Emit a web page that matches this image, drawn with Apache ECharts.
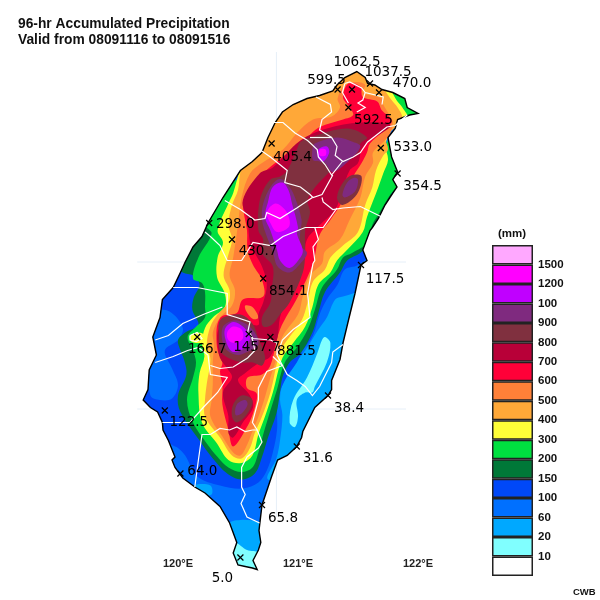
<!DOCTYPE html>
<html>
<head>
<meta charset="utf-8">
<title>96-hr Accumulated Precipitation</title>
<style>html,body{margin:0;background:#fff}#chart{width:600px;height:600px}</style>
<script src="https://cdn.jsdelivr.net/npm/echarts@6/dist/echarts.min.js"></script>
</head>
<body>
<div id="chart"></div>
<script>
// legend, bottom to top
var legendColors = ['#ffffff','#80ffff','#00a8ff','#0070ff','#0048f8','#007838','#00e040','#ffff38','#ffa838','#ff8038','#ff0038','#b80038','#80303f','#7f2a7f','#c000ff','#ff00ff','#ffa8ff'];
var legendLabels = ['','10','20','60','100','150','200','300','400','500','600','700','800','900','100','1200','1500',''];
var lonTicks = [120, 121, 122];

// coastline, lon/lat
var coast = [[121.49,25.27],[121.56,25.23],[121.58,25.19],[121.64,25.18],[121.70,25.15],[121.79,25.13],[121.89,25.09],[121.91,25.03],[122.00,24.99],[121.93,24.98],[121.83,24.95],[121.81,24.89],[121.75,24.83],[121.78,24.70],[121.83,24.60],[121.79,24.55],[121.825,24.50],[121.79,24.46],[121.725,24.38],[121.67,24.29],[121.62,24.23],[121.60,24.21],[121.54,24.08],[121.575,24.01],[121.525,23.98],[121.475,23.79],[121.42,23.61],[121.375,23.46],[121.35,23.35],[121.28,23.21],[121.28,23.15],[121.25,23.11],[121.14,23.03],[121.04,22.87],[121.03,22.83],[120.99,22.77],[120.91,22.71],[120.83,22.68],[120.78,22.57],[120.70,22.38],[120.675,22.21],[120.69,22.13],[120.67,22.08],[120.625,22.01],[120.66,21.95],[120.62,21.96],[120.56,21.97],[120.50,21.98],[120.46,22.06],[120.49,22.13],[120.43,22.26],[120.35,22.37],[120.225,22.46],[120.14,22.50],[120.04,22.56],[119.975,22.63],[119.95,22.68],[119.975,22.70],[119.92,22.81],[119.875,22.88],[119.87,22.93],[119.83,23.00],[119.77,23.03],[119.71,23.08],[119.75,23.15],[119.76,23.28],[119.82,23.38],[119.79,23.50],[119.85,23.63],[119.87,23.75],[119.96,23.83],[120.02,23.93],[120.06,24.00],[120.125,24.10],[120.20,24.17],[120.25,24.26],[120.375,24.43],[120.52,24.61],[120.62,24.67],[120.70,24.73],[120.75,24.83],[120.81,24.93],[120.87,25.00],[120.96,25.05],[121.075,25.09],[121.18,25.11],[121.29,25.14],[121.325,25.18],[121.39,25.23]];

// filled contours, painted low to high and clipped to the coast
var below60 = [
  [[121.375,23.77],[121.31,23.75],[121.24,23.63],[121.17,23.55],[121.06,23.41],[120.95,23.30],[120.87,23.18],[120.85,23.08],[120.87,22.98],[120.85,22.81],[120.82,22.69],[120.75,22.55],[121.02,22.55],[121.60,23.08],[121.68,23.81]],
  [[120.42,22.25],[120.52,22.28],[120.67,22.27],[120.725,22.25],[120.77,21.88],[120.39,21.88]],
  [[119.68,23.16],[119.77,23.16],[119.78,23.07],[119.71,23.06]],
  [[120.14,22.51],[120.27,22.51],[120.28,22.45],[120.18,22.45]]
];
var below20 = [
  [[121.225,23.50],[121.27,23.46],[121.24,23.33],[121.14,23.17],[121.12,23.13],[121.06,23.13],[120.99,23.08],[121.00,22.97],[120.975,22.90],[120.93,22.93],[120.96,23.08],[121.075,23.23],[121.16,23.39],[121.20,23.48]],
  [[120.475,22.13],[120.575,22.08],[120.67,22.06],[120.70,21.91],[120.39,21.91],[120.42,22.11]]
];
var contour100 = [
  [[119.975,23.95],[119.77,23.75],[119.64,23.41],[119.64,23.05],[119.85,22.85],[119.95,22.78],[120.00,22.76],[120.06,22.71],[120.16,22.57],[120.35,22.51],[120.54,22.49],[120.67,22.53],[120.74,22.61],[120.79,22.73],[120.825,22.88],[120.83,23.08],[120.89,23.21],[120.99,23.33],[121.04,23.41],[121.125,23.51],[121.18,23.65],[121.24,23.75],[121.33,23.85],[121.39,23.95],[121.50,23.98],[121.62,24.08],[121.43,24.21],[120.43,24.08]]
];
var holes60 = [
  [[119.81,23.67],[119.93,23.67],[120.04,23.56],[120.00,23.48],[119.89,23.41],[119.95,23.29],[120.00,23.18],[119.95,23.09],[119.85,23.08],[119.77,23.11],[119.75,23.35],[119.77,23.51]]
];
var contour150 = [
  [[120.39,24.45],[120.18,24.25],[119.975,23.98],[120.04,23.93],[120.125,23.91],[120.18,23.85],[120.13,23.76],[120.12,23.68],[120.17,23.58],[120.06,23.53],[120.00,23.48],[120.02,23.41],[120.05,23.35],[120.07,23.25],[120.00,23.11],[120.02,23.00],[120.18,22.81],[120.29,22.69],[120.41,22.59],[120.53,22.55],[120.64,22.59],[120.70,22.70],[120.75,22.83],[120.82,22.99],[120.85,23.13],[120.87,23.23],[120.93,23.33],[121.02,23.39],[121.12,23.53],[121.17,23.66],[121.225,23.80],[121.35,23.93],[121.41,24.01],[121.52,24.06],[121.64,24.15],[121.81,24.28],[121.81,24.45],[121.43,24.41],[120.52,24.48]]
];
var contour200 = [
  [[120.31,24.48],[120.225,24.25],[120.28,24.19],[120.17,24.03],[120.125,23.89],[120.20,23.86],[120.225,23.80],[120.225,23.70],[120.225,23.63],[120.14,23.56],[120.08,23.50],[120.125,23.41],[120.15,23.33],[120.125,23.23],[120.075,23.08],[120.125,22.93],[120.24,22.79],[120.33,22.70],[120.42,22.63],[120.53,22.60],[120.62,22.63],[120.67,22.73],[120.71,22.85],[120.77,23.01],[120.825,23.15],[120.89,23.33],[120.99,23.43],[121.08,23.55],[121.14,23.68],[121.20,23.83],[121.325,23.95],[121.375,24.03],[121.45,24.06],[121.58,24.13],[121.62,24.25],[121.68,24.33],[121.77,24.45],[121.81,24.48],[121.89,24.55],[121.89,24.85],[121.77,24.83],[121.60,24.61],[121.02,24.55],[120.52,24.55]],
  [[121.79,25.13],[121.93,25.11],[122.02,24.99],[121.93,24.96],[121.85,25.03],[121.81,25.08]]
];
var contour300 = [
  [[120.52,24.63],[120.46,24.46],[120.42,24.39],[120.33,24.21],[120.375,24.13],[120.33,24.03],[120.325,23.90],[120.39,23.79],[120.39,23.70],[120.29,23.63],[120.225,23.56],[120.20,23.46],[120.22,23.37],[120.18,23.26],[120.17,23.13],[120.20,22.93],[120.325,22.79],[120.42,22.68],[120.53,22.66],[120.62,22.71],[120.67,22.85],[120.725,22.97],[120.79,23.13],[120.87,23.36],[120.96,23.46],[121.06,23.57],[121.12,23.70],[121.17,23.85],[121.27,23.93],[121.325,24.01],[121.42,24.09],[121.54,24.20],[121.575,24.30],[121.67,24.50],[121.71,24.59],[121.75,24.68],[121.73,24.78],[121.78,24.88],[121.91,24.96],[121.87,25.03],[121.82,25.08],[121.77,25.15],[121.64,25.28],[121.02,25.28],[120.77,24.95],[120.56,24.71]],
  [[120.10,23.51],[120.17,23.53],[120.225,23.51],[120.23,23.47],[120.17,23.46],[120.11,23.47]]
];
var contour400 = [
  [[120.52,24.60],[120.50,24.48],[120.45,24.38],[120.42,24.25],[120.45,24.15],[120.42,24.05],[120.38,23.91],[120.43,23.81],[120.42,23.73],[120.33,23.65],[120.27,23.57],[120.24,23.45],[120.27,23.35],[120.24,23.19],[120.225,23.08],[120.225,22.97],[120.35,22.83],[120.45,22.71],[120.53,22.69],[120.60,22.76],[120.64,22.86],[120.70,22.97],[120.77,23.13],[120.85,23.40],[120.92,23.49],[121.03,23.61],[121.08,23.73],[121.125,23.87],[121.225,23.95],[121.27,24.03],[121.375,24.11],[121.50,24.20],[121.56,24.38],[121.62,24.50],[121.65,24.61],[121.71,24.71],[121.75,24.75],[121.73,24.83],[121.825,24.91],[121.87,24.96],[121.83,25.03],[121.78,25.08],[121.72,25.15],[121.64,25.28],[121.02,25.35],[120.68,24.95],[120.56,24.68]]
];
var contour500 = [
  [[120.875,24.75],[120.70,24.66],[120.60,24.59],[120.53,24.43],[120.50,24.25],[120.46,24.03],[120.43,23.91],[120.475,23.81],[120.45,23.71],[120.35,23.63],[120.29,23.53],[120.30,23.45],[120.29,23.33],[120.29,23.19],[120.28,23.08],[120.27,22.97],[120.375,22.83],[120.46,22.73],[120.52,22.71],[120.575,22.78],[120.625,22.88],[120.68,22.99],[120.725,23.10],[120.77,23.23],[120.81,23.33],[120.85,23.46],[120.89,23.53],[121.00,23.65],[121.04,23.77],[121.10,23.91],[121.20,23.99],[121.225,24.07],[121.35,24.15],[121.43,24.28],[121.52,24.43],[121.56,24.57],[121.625,24.66],[121.625,24.73],[121.725,24.81],[121.77,24.86],[121.79,24.93],[121.77,24.97],[121.71,25.05],[121.70,25.09],[121.54,25.13],[121.56,25.18],[121.49,25.20],[121.39,25.18],[121.33,25.09],[121.35,25.03],[121.28,24.97],[121.125,24.95],[120.99,24.86]]
];
var contour600 = [
  [[121.42,25.19],[121.52,25.17],[121.54,25.10],[121.66,25.07],[121.70,25.01],[121.77,24.96],[121.78,24.93],[121.71,24.87],[121.60,24.79],[121.575,24.73],[121.53,24.66],[121.46,24.57],[121.375,24.41],[121.27,24.28],[121.18,24.18],[121.125,23.99],[121.00,23.77],[120.85,23.55],[120.77,23.31],[120.70,23.25],[120.58,23.23],[120.575,23.16],[120.65,23.13],[120.66,23.10],[120.625,22.99],[120.575,22.90],[120.46,22.77],[120.42,22.88],[120.37,23.05],[120.37,23.18],[120.35,23.27],[120.37,23.33],[120.33,23.41],[120.32,23.51],[120.33,23.59],[120.37,23.64],[120.49,23.66],[120.54,23.75],[120.71,23.77],[120.70,23.88],[120.625,23.98],[120.58,24.08],[120.575,24.21],[120.54,24.39],[120.575,24.46],[120.68,24.57],[120.81,24.66],[121.075,24.83],[121.18,24.90],[121.375,24.95],[121.46,24.98],[121.43,25.03],[121.375,25.10]]
];
var lobes500 = [
  [[120.56,23.71],[120.62,23.70],[120.67,23.63],[120.625,23.62],[120.57,23.67]]
];
var contour700 = [
  [[121.02,24.81],[121.24,24.89],[121.52,24.93],[121.77,24.91],[121.58,24.80],[121.53,24.75],[121.50,24.66],[121.43,24.61],[121.37,24.48],[121.31,24.35],[121.16,24.23],[121.075,24.15],[121.04,24.01],[120.93,23.81],[120.85,23.63],[120.83,23.50],[120.77,23.37],[120.68,23.33],[120.56,23.26],[120.50,23.21],[120.60,23.11],[120.625,23.03],[120.54,22.93],[120.46,22.83],[120.42,22.86],[120.42,22.97],[120.375,23.13],[120.45,23.23],[120.41,23.29],[120.35,23.36],[120.33,23.45],[120.33,23.53],[120.37,23.60],[120.45,23.64],[120.56,23.60],[120.67,23.58],[120.67,23.65],[120.71,23.73],[120.74,23.85],[120.70,23.97],[120.64,24.06],[120.60,24.13],[120.58,24.28],[120.54,24.41],[120.68,24.59],[120.79,24.63]]
];
var contour800 = [
  [[121.02,24.80],[121.10,24.83],[121.41,24.89],[121.575,24.83],[121.52,24.79],[121.50,24.73],[121.35,24.66],[121.225,24.57],[121.125,24.48],[121.08,24.41],[121.10,24.33],[121.06,24.21],[121.06,24.06],[121.04,23.93],[120.93,23.73],[120.85,23.65],[120.78,23.58],[120.71,23.57],[120.70,23.63],[120.77,23.73],[120.78,23.81],[120.79,23.97],[120.70,24.06],[120.71,24.15],[120.67,24.21],[120.67,24.35],[120.70,24.46],[120.77,24.55],[120.85,24.57],[120.91,24.61],[120.99,24.75]],
  [[120.375,23.63],[120.52,23.65],[120.62,23.59],[120.67,23.49],[120.725,23.37],[120.70,23.31],[120.625,23.33],[120.54,23.33],[120.42,23.36],[120.35,23.41],[120.34,23.53],[120.34,23.59]],
  [[121.53,24.57],[121.49,24.45],[121.37,24.38],[121.325,24.43],[121.375,24.53],[121.45,24.58]],
  [[120.46,23.05],[120.53,23.11],[120.62,23.08],[120.58,22.99],[120.49,22.93],[120.45,22.97]]
];
var contour900 = [
  [[121.14,24.79],[121.325,24.83],[121.46,24.80],[121.52,24.77],[121.43,24.68],[121.29,24.60],[121.225,24.66],[121.18,24.67],[121.125,24.68],[121.12,24.75]],
  [[120.87,24.55],[120.93,24.50],[120.975,24.43],[121.03,24.28],[121.02,24.21],[121.02,24.11],[121.075,24.06],[121.02,23.99],[120.93,23.93],[120.83,23.97],[120.79,24.07],[120.74,24.17],[120.70,24.28],[120.71,24.39],[120.77,24.50],[120.83,24.55]],
  [[120.37,23.56],[120.46,23.61],[120.56,23.59],[120.64,23.53],[120.67,23.45],[120.575,23.40],[120.49,23.38],[120.39,23.43]],
  [[121.50,24.55],[121.475,24.47],[121.39,24.43],[121.37,24.45],[121.41,24.53],[121.46,24.56]],
  [[120.49,23.05],[120.56,23.08],[120.58,23.05],[120.53,22.99],[120.48,22.98]]
];
var contour1000 = [
  [[120.87,24.53],[120.92,24.48],[120.95,24.39],[121.00,24.23],[120.99,24.19],[121.04,24.08],[121.02,24.03],[120.93,23.96],[120.85,24.01],[120.825,24.08],[120.77,24.21],[120.725,24.30],[120.75,24.40],[120.79,24.50]],
  [[121.17,24.75],[121.24,24.77],[121.26,24.73],[121.21,24.67],[121.17,24.69]],
  [[120.39,23.55],[120.46,23.60],[120.54,23.57],[120.60,23.50],[120.56,23.43],[120.46,23.40],[120.41,23.45]]
];
var contour1200 = [
  [[120.81,24.39],[120.89,24.35],[120.93,24.28],[120.92,24.23],[120.825,24.20],[120.77,24.26],[120.74,24.33]],
  [[120.41,23.53],[120.46,23.57],[120.53,23.55],[120.54,23.49],[120.475,23.46],[120.42,23.48]],
  [[121.18,24.75],[121.23,24.75],[121.23,24.71],[121.18,24.71]]
];

// county borders
var counties = [
  [[121.15,25.10],[121.27,25.05],[121.28,25.00],[121.20,24.95],[121.18,24.88],[121.28,24.83],[121.325,24.77],[121.31,24.71],[121.375,24.67],[121.46,24.70],[121.52,24.73],[121.58,24.80],[121.74,24.90],[121.81,24.91],[121.91,24.98]],
  [[120.79,24.93],[120.875,24.93],[120.975,24.86],[121.08,24.81],[121.16,24.75],[121.17,24.70],[121.225,24.65],[121.28,24.58],[121.37,24.67]],
  [[121.10,24.83],[121.28,24.83]],
  [[120.68,24.75],[120.77,24.70],[120.91,24.61],[120.89,24.53],[121.02,24.50],[121.10,24.45],[121.125,24.43],[121.20,24.45],[121.29,24.58]],
  [[120.39,24.41],[120.52,24.35],[120.64,24.28],[120.725,24.29],[120.74,24.33],[120.85,24.29],[120.99,24.36],[121.12,24.43]],
  [[121.20,24.43],[121.21,24.40],[121.29,24.35],[121.375,24.36],[121.52,24.37],[121.725,24.29]],
  [[121.325,24.36],[121.21,24.23],[121.125,24.23],[121.06,24.23],[120.875,24.17],[120.77,24.11],[120.625,24.13],[120.53,24.01],[120.41,24.01],[120.35,24.11],[120.27,24.17],[120.225,24.20]],
  [[121.14,24.23],[121.17,24.15],[121.125,24.10],[121.14,24.01],[121.125,23.99],[121.08,23.79],[121.10,23.63],[120.96,23.55],[120.87,23.48],[120.825,23.38],[120.91,23.25],[120.99,23.21],[121.06,23.17],[121.12,23.11],[121.18,23.17],[121.28,23.33],[121.29,23.40],[121.375,23.45]],
  [[119.96,23.83],[120.16,23.83],[120.41,23.79],[120.41,23.73],[120.41,23.65],[120.49,23.63],[120.60,23.60],[120.58,23.53],[120.625,23.49],[120.77,23.48],[120.825,23.46],[120.825,23.38]],
  [[119.81,23.48],[119.92,23.51],[120.04,23.59],[120.21,23.65],[120.37,23.70]],
  [[119.81,23.33],[119.96,23.37],[120.08,23.41],[120.17,23.43],[120.25,23.38],[120.27,23.25],[120.41,23.23],[120.33,23.13],[120.21,23.03],[120.10,22.93],[119.87,22.93]],
  [[120.10,23.51],[120.16,23.53],[120.20,23.49],[120.15,23.47],[120.10,23.48],[120.10,23.51]],
  [[120.60,23.53],[120.625,23.47],[120.64,23.41],[120.58,23.36],[120.46,23.30],[120.35,23.29],[120.27,23.31]],
  [[120.79,23.37],[120.87,23.31],[120.74,23.27],[120.67,23.16],[120.67,23.08],[120.62,22.93],[120.66,22.88],[120.70,22.80],[120.67,22.76],[120.575,22.70],[120.53,22.63],[120.53,22.50],[120.56,22.45],[120.525,22.39],[120.575,22.30],[120.68,22.26]],
  [[120.66,22.88],[120.62,22.88],[120.56,22.87],[120.49,22.90],[120.43,22.88],[120.35,22.89],[120.27,22.85],[120.20,22.85],[120.17,22.68],[120.14,22.50]],
  [[121.39,25.19],[121.43,25.20],[121.53,25.16],[121.56,25.13],[121.71,25.10],[121.70,25.05]],
  [[121.39,25.19],[121.37,25.13],[121.42,25.06]],
  [[121.56,25.13],[121.54,25.08],[121.50,25.06],[121.56,25.03],[121.49,25.00]]
];

// faint graticule lines left in the map
var graticule = [
  [[119.66,24.00],[121.90,24.00]],
  [[119.66,23.02],[121.90,23.02]],
  [[120.82,25.40],[120.82,22.30]]
];

// stations
var stationNames = ['599.5','1062.5','1037.5','470.0','592.5','533.0','354.5','405.4','298.0','430.7','854.1','166.7','1457.7','881.5','117.5','38.4','31.6','122.5','64.0','65.8','5.0'];
var stationLon = [121.33,121.45,121.60,121.675,121.42,121.69,121.83,120.78,120.26,120.45,120.71,120.16,120.59,120.77,121.525,121.25,120.99,119.89,120.02,120.70,120.52];
var stationLat = [25.15,25.15,25.19,25.13,25.03,24.76,24.59,24.79,24.26,24.15,23.89,23.50,23.52,23.50,23.98,23.11,22.77,23.01,22.59,22.38,22.03];
var labelOffsets = [[-11,-9],[5,-27],[18,-11],[33,-9],[25,13],[32,-1],[25,13],[21,14],[26,1],[26,12],[25,13],[10,12],[8,13],[26,14],[24,14],[21,13],[21,12],[24,12],[22,-2],[21,13],[-18,21]];

// paint order
var layers = [
  [below60, '#00a8ff'],
  [below20, '#80ffff'],
  [contour100, '#0048f8'],
  [holes60, '#0070ff'],
  [contour150, '#007838'],
  [contour200, '#00e040'],
  [contour300, '#ffff38'],
  [contour400, '#ffa838'],
  [contour500, '#ff8038'],
  [contour600, '#ff0038'],
  [lobes500, '#ff8038'],
  [contour700, '#b80038'],
  [contour800, '#80303f'],
  [contour900, '#7f2a7f'],
  [contour1000, '#c000ff'],
  [contour1200, '#ff00ff']
];

function toPoints(api, ring) {
  return ring.map(function (p) { return api.coord(p); });
}

function indexData(list) {
  return list.map(function (d, i) { return [i]; });
}

function fillSeries(polys, color) {
  return {
    type: 'custom',
    xAxisIndex: 0,
    yAxisIndex: 0,
    silent: true,
    clip: false,
    data: indexData(polys),
    renderItem: function (params, api) {
      return {
        type: 'polygon',
        clipPath: { type: 'polygon', shape: { points: toPoints(api, coast) } },
        shape: { points: toPoints(api, polys[api.value(0)]), smooth: 0.35 },
        style: { fill: color }
      };
    }
  };
}

function lineSeries(lines, color, width) {
  return {
    type: 'custom',
    xAxisIndex: 0,
    yAxisIndex: 0,
    silent: true,
    clip: false,
    data: indexData(lines),
    renderItem: function (params, api) {
      return {
        type: 'polyline',
        shape: { points: toPoints(api, lines[api.value(0)]) },
        style: { fill: 'none', stroke: color, lineWidth: width }
      };
    }
  };
}

var series = [lineSeries(graticule, '#e6eff8', 1)];

// island base colour
series.push({
  type: 'custom',
  xAxisIndex: 0,
  yAxisIndex: 0,
  silent: true,
  clip: false,
  data: [[0]],
  renderItem: function (params, api) {
    return { type: 'polygon', shape: { points: toPoints(api, coast) }, style: { fill: '#0070ff' } };
  }
});

layers.forEach(function (l) {
  series.push(fillSeries(l[0], l[1]));
});

// coast outline
series.push({
  type: 'custom',
  xAxisIndex: 0,
  yAxisIndex: 0,
  silent: true,
  clip: false,
  data: [[0]],
  renderItem: function (params, api) {
    return { type: 'polygon', shape: { points: toPoints(api, coast) }, style: { fill: 'none', stroke: '#000', lineWidth: 1.4 } };
  }
});

series.push(lineSeries(counties, '#ffffff', 1.2));

// station crosses and their totals
series.push({
  type: 'scatter',
  xAxisIndex: 0,
  yAxisIndex: 0,
  silent: true,
  clip: false,
  symbol: 'path://M0,0L10,10M10,0L0,10',
  symbolSize: 6,
  itemStyle: { color: 'transparent', borderColor: '#000', borderWidth: 1.2, opacity: 1 },
  data: stationNames.map(function (name, i) {
    return {
      value: [stationLon[i], stationLat[i]],
      label: {
        show: true,
        position: 'inside',
        offset: labelOffsets[i],
        formatter: name,
        fontFamily: 'DejaVu Sans',
        fontSize: 13.5,
        color: '#000'
      }
    };
  })
});

// colour bar as one stacked column
legendColors.forEach(function (c) {
  series.push({
    type: 'bar',
    xAxisIndex: 1,
    yAxisIndex: 1,
    stack: 'legend',
    barWidth: '100%',
    silent: true,
    itemStyle: { color: c, borderColor: '#222', borderWidth: 1.5 },
    data: [1]
  });
});

var chart = echarts.init(document.getElementById('chart'));
chart.setOption({
  animation: false,
  backgroundColor: '#fff',
  title: [
    {
      text: '96-hr Accumulated Precipitation\nValid from 08091116 to 08091516',
      left: 18,
      top: 16,
      padding: 0,
      textStyle: { fontFamily: 'Liberation Sans', fontSize: 13.8, fontWeight: 'bold', color: '#111', lineHeight: 16 }
    },
    { text: '(mm)', left: 498, top: 228, padding: 0, textStyle: { fontFamily: 'Liberation Sans', fontSize: 11.5, fontWeight: 'bold', color: '#111' } },
    { text: 'CWB', left: 573, top: 587, padding: 0, textStyle: { fontFamily: 'Liberation Sans', fontSize: 9.5, fontWeight: 'bold', color: '#111' } }
  ],
  grid: [
    { left: 58, top: 22, width: 480, height: 570 },
    { left: 492, top: 245, width: 41, height: 331 }
  ],
  xAxis: [
    {
      type: 'value',
      gridIndex: 0,
      min: 119,
      max: 123,
      interval: 1,
      offset: -42,
      splitLine: { show: false },
      axisLine: { show: false },
      axisTick: { show: false },
      axisLabel: {
        fontFamily: 'Liberation Sans',
        fontSize: 11,
        fontWeight: 'bold',
        color: '#222',
        formatter: function (v) { return lonTicks.indexOf(v) >= 0 ? v + '°E' : ''; }
      }
    },
    { type: 'category', gridIndex: 1, data: ['mm'], show: false }
  ],
  yAxis: [
    { type: 'value', gridIndex: 0, min: 21.8, max: 25.6, show: false },
    {
      type: 'value',
      gridIndex: 1,
      position: 'right',
      min: 0,
      max: 17,
      interval: 1,
      splitLine: { show: false },
      axisLine: { show: false },
      axisTick: { show: false },
      axisLabel: {
        margin: 5,
        fontFamily: 'Liberation Sans',
        fontSize: 11.5,
        fontWeight: 'bold',
        color: '#111',
        padding: [2, 0, 0, 0],
        formatter: function (v) { return legendLabels[v]; }
      }
    }
  ],
  series: series
});
</script>
</body>
</html>
